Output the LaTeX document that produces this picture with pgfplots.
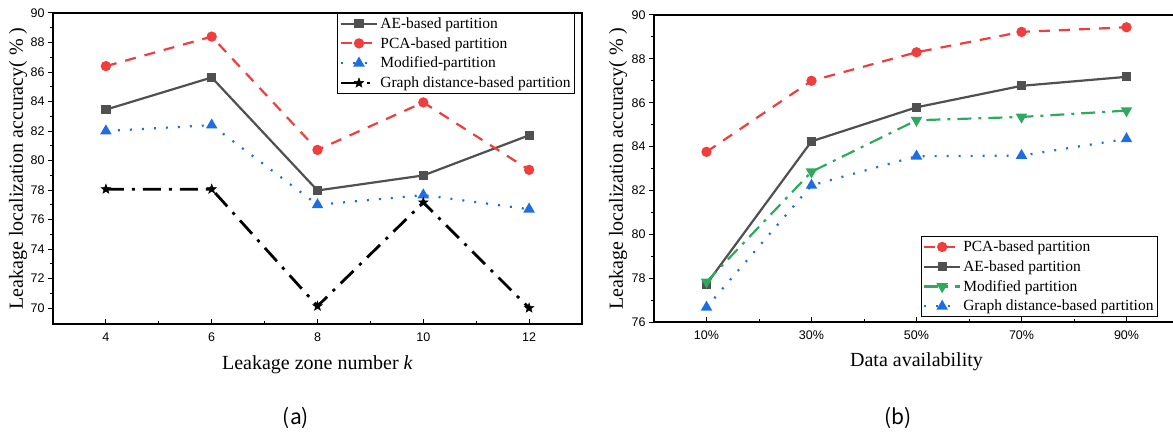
\documentclass[border=0pt]{standalone}
\usepackage{fontspec}
\setmainfont{Liberation Serif}
\newfontfamily\sansf{Liberation Sans}
\newfontfamily\cjk{Noto Sans CJK SC}
\usepackage{pgfplots}
\pgfplotsset{compat=1.18}

\definecolor{cred}{RGB}{240,62,62}
\definecolor{cgray}{RGB}{80,80,80}
\definecolor{cblue}{RGB}{30,110,225}
\definecolor{cgreen}{RGB}{45,170,95}

\pgfdeclareplotmark{fstar}{%
  \pgfpathmoveto{\pgfpointpolar{90}{\pgfplotmarksize}}%
  \pgfpathlineto{\pgfpointpolar{126}{0.42\pgfplotmarksize}}%
  \pgfpathlineto{\pgfpointpolar{162}{\pgfplotmarksize}}%
  \pgfpathlineto{\pgfpointpolar{198}{0.42\pgfplotmarksize}}%
  \pgfpathlineto{\pgfpointpolar{234}{\pgfplotmarksize}}%
  \pgfpathlineto{\pgfpointpolar{270}{0.42\pgfplotmarksize}}%
  \pgfpathlineto{\pgfpointpolar{306}{\pgfplotmarksize}}%
  \pgfpathlineto{\pgfpointpolar{342}{0.42\pgfplotmarksize}}%
  \pgfpathlineto{\pgfpointpolar{18}{\pgfplotmarksize}}%
  \pgfpathlineto{\pgfpointpolar{54}{0.42\pgfplotmarksize}}%
  \pgfpathclose\pgfusepathqfillstroke}

\pgfplotsset{
  legend image code/.code={\draw[mark repeat=2,mark phase=2,#1] plot coordinates {(0pt,0pt) (18pt,0pt) (36pt,0pt)};},
  mystyle/.style={
    scale only axis,
    axis line style={line width=1.2pt, black},
    tick style={line width=1pt, black},
    tick align=outside,
    major tick length=5pt,
    minor tick length=3pt,
    major x tick style={yshift=5pt},
    minor x tick style={yshift=3pt},
    xtick pos=bottom, ytick pos=left,
    tick label style={font=\sansf\fontsize{12.5}{13}\selectfont},
    /pgf/number format/assume math mode=true,
    label style={font=\fontsize{20}{22}\selectfont},
    legend cell align=left,
    legend style={font=\fontsize{15.5}{17}\selectfont, draw=black, line width=1pt, inner sep=2pt, row sep=3.5pt},
  },
}

\begin{document}
\begin{tikzpicture}[x=1pt,y=1pt]
\path[use as bounding box, clip] (0,0) rectangle (1173,437);
\begin{axis}[mystyle, at={(53pt,113pt)}, anchor=south west, width=529pt, height=311pt,
  xmin=3, xmax=13, ymin=68.92, ymax=90,
  xtick={4,6,8,10,12}, minor x tick num=1,
  ytick={70,72,...,90}, minor y tick num=1,
  xlabel={Leakage zone number \textit{k}},
  ylabel={Leakage localization accuracy(\hspace{0.25em}\%\hspace{0.25em})},
  x label style={at={(axis description cs:0.5,0)}, anchor=center, yshift=-41pt},
  y label style={at={(axis description cs:-0.066,0.5)}, anchor=center},
  legend style={at={(0.987,1)}, anchor=north east},
]
\addplot[cgray, line width=2.2pt, mark=square*, mark size=3.5pt, mark options={solid}]
  coordinates {(4,83.45)(6,85.63)(8,77.97)(10,78.99)(12,81.71)};
\addlegendentry{AE-based partition}
\addplot[cred, line width=2.2pt, dash pattern=on 11pt off 9pt, mark=*, mark size=4pt, mark options={solid}]
  coordinates {(4,86.4)(6,88.4)(8,80.72)(10,83.94)(12,79.37)};
\addlegendentry{PCA-based partition}
\addplot[cblue, line width=2.2pt, dash pattern=on 2pt off 10pt, mark=triangle*, mark size=4.5pt, mark options={solid}]
  coordinates {(4,82.0)(6,82.4)(8,77.0)(10,77.66)(12,76.7)};
\addlegendentry{Modified-partition}
\addplot[black, line width=2.8pt, dash pattern=on 18pt off 8pt on 3pt off 8pt, mark=fstar, mark size=5pt, mark options={solid, line width=0.5pt}]
  coordinates {(4,78.06)(6,78.06)(8,70.13)(10,77.16)(12,70.0)};
\addlegendentry{Graph distance-based partition}
\end{axis}

\begin{axis}[mystyle, at={(654pt,115pt)}, anchor=south west, width=525pt, height=307pt,
  xmin=0, xmax=100, ymin=76, ymax=90,
  xtick={10,30,50,70,90}, xticklabels={10\%,30\%,50\%,70\%,90\%}, minor x tick num=1,
  ytick={76,78,...,90}, minor y tick num=1,
  xlabel={Data availability},
  ylabel={Leakage localization accuracy(\hspace{0.25em}\%\hspace{0.25em})},
  x label style={at={(axis description cs:0.5,0)}, anchor=center, yshift=-40pt},
  y label style={at={(axis description cs:-0.0686,0.5)}, anchor=center},
  legend style={at={(0.96,0.0163)}, anchor=south east},
]
\addplot[cred, line width=2.2pt, dash pattern=on 11pt off 9pt, mark=*, mark size=4pt, mark options={solid}]
  coordinates {(10,83.76)(30,87.0)(50,88.3)(70,89.23)(90,89.44)};
\addlegendentry{PCA-based partition}
\addplot[cgray, line width=2.2pt, mark=square*, mark size=3.5pt, mark options={solid}]
  coordinates {(10,77.73)(30,84.24)(50,85.79)(70,86.77)(90,87.18)};
\addlegendentry{AE-based partition}
\addplot[cgreen, line width=2.2pt, dash pattern=on 14pt off 7pt on 3pt off 7pt, mark=triangle*, mark size=4.5pt, mark options={solid, rotate=180}]
  coordinates {(10,77.83)(30,82.85)(50,85.2)(70,85.35)(90,85.64)};
\addlegendentry{Modified partition}
\addplot[cblue, line width=2.2pt, dash pattern=on 2pt off 10pt, mark=triangle*, mark size=4.5pt, mark options={solid}]
  coordinates {(10,76.67)(30,82.23)(50,83.56)(70,83.59)(90,84.35)};
\addlegendentry{Graph distance-based partition}
\end{axis}

\node[font=\cjk\fontsize{21}{24}\selectfont] at (296,19) {(a)};
\node[font=\cjk\fontsize{21}{24}\selectfont] at (898,19) {(b)};
\end{tikzpicture}
\end{document}
